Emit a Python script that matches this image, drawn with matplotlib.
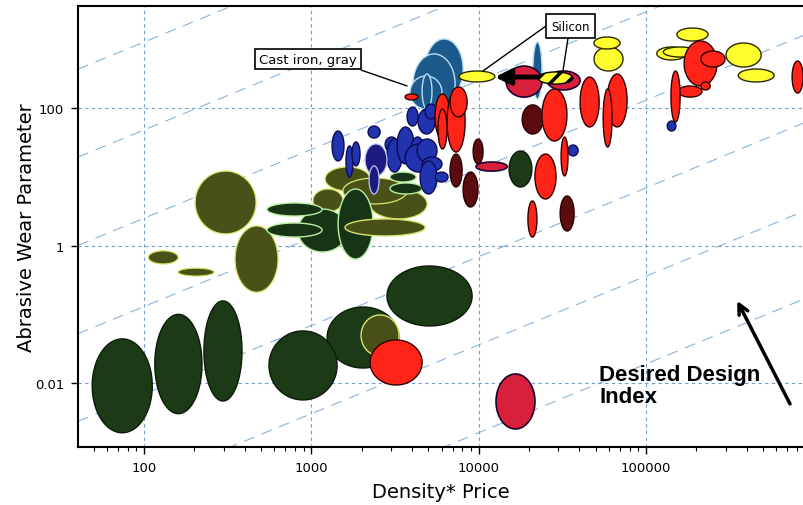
import numpy as np
import matplotlib
matplotlib.use('Agg')
import matplotlib.pyplot as plt
from matplotlib.ticker import FixedLocator, LogLocator, FuncFormatter, NullLocator, NullFormatter

# property envelopes: (density*price low, high, wear parameter low, high)
olive_back = [
    (202, 467, 1.48, 12.1),
    (350, 632, 0.21, 1.93),
    (106, 160, 0.54, 0.84),
    (160, 262, 0.36, 0.47),
    (1023, 1545, 3.08, 6.65),
    (1208, 2244, 6.22, 13.9),
    (2244, 4920, 2.44, 6.65),
    (1545, 3733, 4.03, 9.6),
]
dark_green = [
    (49, 112, 0.0019, 0.044),
    (116, 222, 0.0036, 0.10),
    (228, 385, 0.0055, 0.157),
    (1242, 3342, 0.0166, 0.128),
    (558, 1425, 0.0057, 0.0574),
    (2831, 9140, 0.0678, 0.505),
    (15200, 20800, 7.11, 23.7),
]
dark_green_lit = [
    (832, 1633, 0.807, 3.40),
    (1445, 2339, 0.638, 6.65),
    (543, 1159, 2.69, 4.16),
    (543, 1159, 1.33, 2.13),
    (2951, 4227, 8.4, 11.7),
    (2951, 4592, 5.62, 8.13),
]
olive_front = [
    (1982, 3342, 0.0248, 0.098),
    (1589, 4786, 1.38, 2.44),
]
steel = [
    (4786, 8072, 135, 1007),
    (4055, 7228, 81.8, 610),
    (3891, 6039, 96.7, 292),
    (4592, 5260, 96.7, 312),
    (21100, 23900, 135, 910),
]
blue = [
    (1330, 1567, 17.0, 46.3),
    (2183, 2576, 36.6, 54.7),
    (1611, 1775, 9.9, 28.1),
    (1750, 1954, 14.4, 32.1),
    (2761, 3296, 22.9, 37.9),
    (2831, 3483, 11.7, 35.4),
    (3251, 4111, 15.4, 53.0),
    (3891, 4786, 12.1, 37.9),
    (3631, 5333, 11.7, 30.0),
    (4285, 5636, 16.4, 35.4),
    (4592, 6039, 12.1, 19.4),
    (4467, 5636, 5.62, 17.0),
    (5483, 6561, 8.4, 11.7),
    (3733, 4345, 54.7, 103),
    (4345, 5483, 41.9, 96.7),
    (4786, 5636, 69.2, 114),
    (34200, 39300, 20.1, 29.0),
    (134000, 151000, 46.3, 64.7),
]
navy = [
    (2094, 2831, 10.3, 30.0),
    (2213, 2541, 5.62, 14.4),
]
yellow = [
    (48900, 72900, 345, 771),
    (48900, 70000, 721, 1077),
    (7640, 12500, 239, 345),
    (116000, 174000, 499, 771),
    (127000, 202000, 551, 771),
    (153000, 235000, 942, 1455),
    (301000, 488000, 394, 881),
    (356000, 583000, 239, 369),
]
maroon = [
    (6745, 7962, 7.11, 21.4),
    (8072, 9908, 3.64, 11.7),
    (9268, 10620, 15.4, 35.4),
    (18200, 24300, 41.9, 111),
    (30700, 37200, 1.63, 5.26),
]
red = [
    (2244, 4592, 0.0094, 0.0425),
    (3631, 4345, 131, 160),
    (5483, 6745, 35.4, 160),
    (6471, 8299, 22.9, 177),
    (6745, 8531, 74.0, 202),
    (5717, 6471, 25.4, 96.7),
    (23900, 33700, 33.1, 189),
    (21700, 29000, 4.76, 21.4),
    (31100, 34200, 10.3, 37.9),
    (19700, 22300, 1.33, 4.45),
    (40400, 52500, 53.0, 282),
    (58600, 77100, 53.0, 312),
    (55500, 62700, 27.1, 189),
    (169000, 266000, 209, 942),
    (213000, 297000, 394, 673),
    (156000, 216000, 144, 209),
    (213000, 242000, 183, 239),
    (141000, 160000, 62.6, 345),
    (747000, 869000, 165, 482),
]
crimson = [
    (12700, 21700, 0.00216, 0.0136),
    (9640, 14800, 12.1, 16.4),
    (14600, 23900, 144, 407),
    (25600, 40400, 183, 345),
]
silicon = (22600, 36600, 223, 334)

# design index guide lines (wear = C * density*price)
index_levels = [9.1, 0.48, 0.025, 0.0013, 6.9e-5, 3.6e-6, 1.9e-7]

x_ticks = [100, 1000, 10000, 100000]
y_ticks = [0.01, 1, 100]

layers = [
    (olive_back, '#4a5118', '#d6e66a', 0.9),
    (dark_green, '#1c3a16', '#0c1a08', 1.0),
    (dark_green_lit, '#173516', '#b8eea0', 1.0),
    (olive_front, '#485018', '#d6e66a', 1.0),
    (steel, '#1d5a8c', '#b8dcf2', 1.0),
    (blue, '#2233b0', '#0c0c55', 1.0),
    (navy, '#1a1a80', '#c0c8f0', 0.9),
    (yellow, '#ffff30', '#2a2a00', 1.0),
    (maroon, '#5a0c0e', '#2a0000', 1.0),
    (red, '#ff2418', '#300000', 1.0),
    (crimson, '#d81f3c', '#1a0030', 1.2),
]


def envelope(ax, x_lo, x_hi, y_lo, y_hi, **kw):
    t = np.linspace(0, 2 * np.pi, 150)
    lx0, lx1 = np.log10(x_lo), np.log10(x_hi)
    ly0, ly1 = np.log10(y_lo), np.log10(y_hi)
    xs = 10 ** ((lx0 + lx1) / 2 + (lx1 - lx0) / 2 * np.cos(t))
    ys = 10 ** ((ly0 + ly1) / 2 + (ly1 - ly0) / 2 * np.sin(t))
    return ax.fill(xs, ys, **kw)


plt.rcParams['font.family'] = 'DejaVu Sans'
plt.rcParams['hatch.linewidth'] = 2.5

fig = plt.figure(figsize=(8.04, 5.06), dpi=100)
ax = fig.add_axes([78 / 804, 58 / 506, 726 / 804, 441 / 506])
ax.set_xscale('log')
ax.set_yscale('log')
xlim = (40.3, 880000)
ylim = (0.00118, 3040)

for c in index_levels:
    ax.plot(xlim, [c * xlim[0], c * xlim[1]], color='#8ab4dc', lw=0.8,
            linestyle=(0, (10, 7)), zorder=0.5)

for group, face, edge, lw in layers:
    for lo_x, hi_x, lo_y, hi_y in group:
        envelope(ax, lo_x, hi_x, lo_y, hi_y, facecolor=face, edgecolor=edge,
                 lw=lw, zorder=2)

# silicon bar with the direction arrow
ax.annotate('', xy=(12500, 282), xytext=(23500, 282),
            arrowprops=dict(arrowstyle='-|>,head_length=0.9,head_width=0.45',
                            color='black', lw=3.5, shrinkA=0, shrinkB=0),
            zorder=3)
envelope(ax, *silicon, facecolor='#ffff30', edgecolor='black', lw=1.0,
         hatch='//', zorder=4)

box = dict(boxstyle='square,pad=0.3', fc='white', ec='black', lw=1.2)
ax.annotate('Cast iron, gray', xy=(3733, 209), xytext=(955, 515),
            ha='center', va='center', fontsize=9.5, bbox=box,
            arrowprops=dict(arrowstyle='-', color='black', lw=1.0,
                            relpos=(0.91, 0.0), shrinkA=0, shrinkB=0),
            zorder=5)
ax.annotate('Silicon', xy=(10600, 345), xytext=(35400, 1556),
            ha='center', va='center', fontsize=8.5,
            bbox=dict(boxstyle='square,pad=0.45', fc='white', ec='black', lw=1.2),
            arrowprops=dict(arrowstyle='-', color='black', lw=1.0,
                            relpos=(0.0, 0.79), shrinkA=0, shrinkB=0),
            zorder=5)
ax.annotate('', xy=(31900, 345), xytext=(34200, 1040),
            arrowprops=dict(arrowstyle='-', color='black', lw=1.0,
                            shrinkA=0, shrinkB=0), zorder=5)

ax.annotate('', xy=(351000, 0.157), xytext=(726000, 0.00499),
            arrowprops=dict(arrowstyle='->,head_length=0.7,head_width=0.35',
                            color='black', lw=2.5, shrinkA=0, shrinkB=0),
            zorder=5)
ax.text(52500, 0.019, 'Desired Design\nIndex', fontsize=16, fontweight='bold',
        family='Liberation Sans', ha='left', va='top', linespacing=1.05,
        zorder=5)

ax.set_xlim(*xlim)
ax.set_ylim(*ylim)

ax.xaxis.set_major_locator(FixedLocator(x_ticks))
ax.xaxis.set_minor_locator(LogLocator(base=10, subs=np.arange(2, 10)))
ax.xaxis.set_minor_formatter(NullFormatter())
ax.yaxis.set_major_locator(FixedLocator(y_ticks))
ax.yaxis.set_minor_locator(NullLocator())
fmt = FuncFormatter(lambda v, _: f'{v:g}')
ax.xaxis.set_major_formatter(fmt)
ax.yaxis.set_major_formatter(fmt)

ax.tick_params(which='major', length=5, width=1.0, direction='out',
               labelsize=9.5, pad=5)
ax.tick_params(which='minor', length=3, width=0.8, direction='out')
ax.grid(True, which='major', color='#6f9fcf', lw=0.8, linestyle=(0, (3, 3)))
ax.set_axisbelow(True)

for side in ('left', 'bottom', 'top'):
    ax.spines[side].set_linewidth(1.5)
ax.spines['right'].set_visible(False)

ax.set_xlabel('Density* Price', fontsize=14, labelpad=6)
ax.set_ylabel('Abrasive Wear Parameter', fontsize=14, labelpad=-1)

fig.savefig('out.png', dpi=100)
